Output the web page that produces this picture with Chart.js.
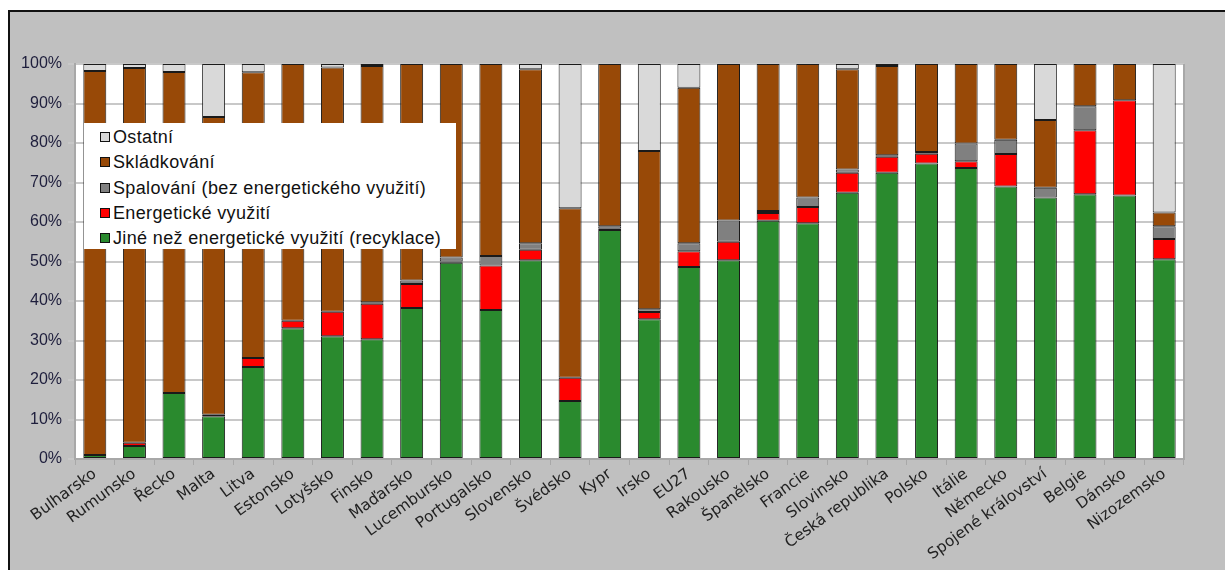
<!DOCTYPE html>
<html>
<head>
<meta charset="utf-8">
<script src="https://cdn.jsdelivr.net/npm/chart.js@4/dist/chart.umd.min.js"></script>
<style>
html,body{margin:0;padding:0;background:#fff;}
#wrap{position:relative;width:1225px;height:570px;overflow:hidden;}
#frame{position:absolute;left:8px;top:10px;right:0;bottom:0;background:#c0c0c0;border-top:2px solid #111;border-left:2px solid #111;}
#c{position:absolute;left:0;top:0;}
#legend{position:absolute;left:84px;top:123px;width:372px;height:126px;background:#fff;font-family:"Liberation Sans",Arial,sans-serif;font-size:18px;color:#111;letter-spacing:0.35px;}
#legend div{position:absolute;left:16px;height:22px;line-height:22px;white-space:nowrap;}
#legend span{display:inline-block;width:8px;height:8px;border:1px solid #111;margin-right:3px;vertical-align:1px;}
</style>
</head>
<body>
<div id="wrap">
<div id="frame"></div>
<canvas id="c" width="1225" height="570"></canvas>
<div id="legend"></div>
</div>
<script>
const countries=["Bulharsko","Rumunsko","Řecko","Malta","Litva","Estonsko","Lotyšsko","Finsko","Maďarsko","Lucembursko","Portugalsko","Slovensko","Švédsko","Kypr","Irsko","EU27","Rakousko","Španělsko","Francie","Slovinsko","Česká republika","Polsko","Itálie","Německo","Spojené království","Belgie","Dánsko","Nizozemsko"];

const recyklace=[1.0,3.3,16.7,10.8,23.3,33.1,31.1,30.3,38.2,49.7,37.7,50.3,14.7,58.0,35.4,48.6,50.3,60.3,59.7,67.4,72.5,74.8,73.7,69.0,66.2,67.0,66.7,50.6];
const energetika=[0,0.8,0,0,2.3,1.9,6.2,9.0,6.1,0.3,11.3,2.7,5.9,0.3,1.8,4.0,4.7,2.0,4.1,5.1,4.0,2.5,1.7,8.2,0,16.2,24.1,5.1];
const spalovani=[0,0,0,0.4,0,0,0,0.4,0.9,1.0,2.4,1.6,0,0.6,0.7,2.0,5.4,0.5,2.4,0.8,0.4,0.4,4.5,3.6,2.5,6.1,0,3.2];
const skladkovani=[97.2,94.9,81.3,75.4,72.3,65.0,61.8,59.8,54.8,49.0,48.6,44.1,42.9,41.1,40.1,39.4,39.6,37.2,33.8,25.4,22.6,22.3,20.1,19.2,17.1,10.7,9.2,3.5];
const ostatni=[1.8,1.0,2.0,13.4,2.1,0,0.9,0.5,0,0,0,1.3,36.5,0,22.0,6.0,0,0,0,1.3,0.5,0,0,0,14.2,0,0,37.6];

const yTicks=[0,10,20,30,40,50,60,70,80,90,100];

const series=[
    {label:"Jiné než energetické využití (recyklace)",data:recyklace,color:"#2a8a2e"},
    {label:"Energetické využití",data:energetika,color:"#ff0000"},
    {label:"Spalování (bez energetického využití)",data:spalovani,color:"#808080"},
    {label:"Skládkování",data:skladkovani,color:"#984907"},
    {label:"Ostatní",data:ostatni,color:"#d9d9d9"}
];

// legend in reverse stacking order, like the original
const legend=document.getElementById("legend");
series.slice().reverse().forEach((s,i)=>{
    const row=document.createElement("div");
    row.style.top=(3+i*25.3)+"px";
    const box=document.createElement("span");
    box.style.background=s.color;
    row.appendChild(box);
    row.appendChild(document.createTextNode(s.label));
    legend.appendChild(row);
});

const plotBg={
    id:"plotBg",
    beforeDraw(chart){
        const a=chart.chartArea;
        const ctx=chart.ctx;
        ctx.save();
        ctx.fillStyle="#fff";
        ctx.fillRect(a.left,a.top,a.right-a.left,a.bottom-a.top);
        ctx.restore();
    },
    beforeDatasetsDraw(chart){
        const a=chart.chartArea;
        const ctx=chart.ctx;
        ctx.save();
        ctx.strokeStyle="#a8a8a8";
        ctx.lineWidth=2;
        ctx.beginPath();
        ctx.moveTo(a.right,a.top);
        ctx.lineTo(a.right,a.bottom);
        ctx.stroke();
        ctx.restore();
    }
};

new Chart(document.getElementById("c"),{
    type:"bar",
    data:{
        labels:countries,
        datasets:series.map(s=>({
            label:s.label,
            data:s.data,
            backgroundColor:s.color,
            borderColor:"#1a1a1a",
            borderWidth:1,
            borderSkipped:false,
            categoryPercentage:1,
            barPercentage:0.58
        }))
    },
    options:{
        responsive:false,
        animation:false,
        layout:{
            padding:{left:0,top:64,right:41,bottom:0}
        },
        plugins:{
            legend:{display:false},
            tooltip:{enabled:false}
        },
        scales:{
            x:{
                stacked:true,
                grid:{
                    drawOnChartArea:false,
                    drawTicks:true,
                    tickLength:6,
                    color:"#a8a8a8",
                    lineWidth:1
                },
                border:{color:"#a8a8a8",width:2},
                ticks:{
                    autoSkip:false,
                    minRotation:36,
                    maxRotation:36,
                    padding:0,
                    color:"#222",
                    font:{family:"DejaVu Sans",size:15.5}
                },
                afterFit(scale){
                    scale.height=111;
                }
            },
            y:{
                stacked:true,
                min:0,
                max:100,
                afterBuildTicks(scale){
                    scale.ticks=yTicks.map(v=>({value:v}));
                },
                grid:{
                    color:"#c8c8c8",
                    lineWidth:2,
                    tickLength:7
                },
                border:{color:"#a8a8a8",width:2},
                ticks:{
                    padding:6,
                    color:"#1e1e3c",
                    font:{family:"Liberation Sans",size:16},
                    callback:v=>v+"%"
                },
                afterFit(scale){
                    scale.width=75;
                }
            }
        }
    },
    plugins:[plotBg]
});
</script>
</body>
</html>
